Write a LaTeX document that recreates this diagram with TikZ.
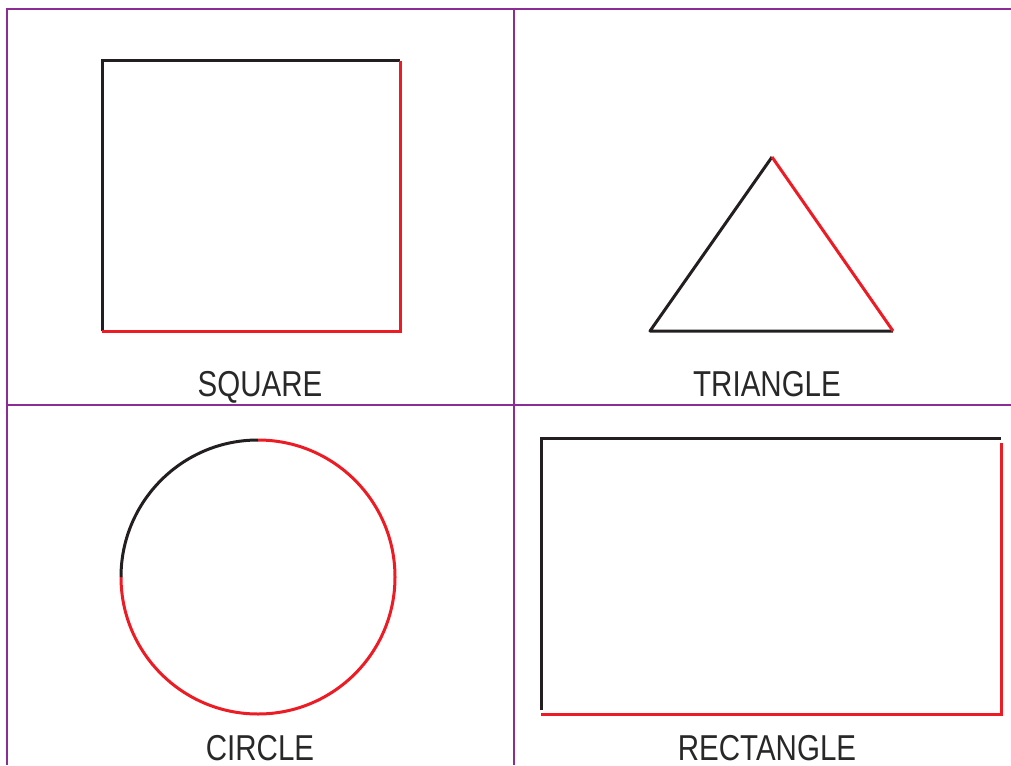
\documentclass[tikz,border=0pt]{standalone}
\usepackage{fontspec}
\newfontfamily\labelfont[FakeStretch=0.82]{Liberation Sans}
\usetikzlibrary{positioning}
\definecolor{gridpurple}{RGB}{140,45,150}
\definecolor{shapered}{RGB}{237,28,36}
\definecolor{shapeblack}{RGB}{35,31,32}
\definecolor{textgray}{RGB}{40,40,40}
\tikzset{
  grid line/.style={draw=gridpurple, line width=1.5pt},
  blk/.style={draw=shapeblack, line width=3pt},
  rd/.style={draw=shapered, line width=3pt},
  lbl/.style={inner sep=0pt, anchor=base, text=textgray, font=\labelfont\fontsize{36}{40}\selectfont}
}

\begin{document}
\begin{tikzpicture}[x=1pt, y=-1pt]
  \useasboundingbox (0,0) rectangle (1011,765);

  % Panel grid
  \draw[grid line] (7,765) -- (7,9) -- (1011,9);
  \draw[grid line] (514,9) -- (514,765);
  \draw[grid line] (7,405) -- (1011,405);

  % Square
  \coordinate (sqA) at (102,61);
  \coordinate (sqB) at (400,61);
  \coordinate (sqC) at (400,331);
  \coordinate (sqD) at (102,331);
  \draw[blk, line join=miter] (sqD) -- (sqA) -- (sqB);
  \draw[rd, line join=miter] (sqB) -- (sqC) -- (sqD);
  \node[lbl] (sq) at (260,396) {SQUARE};

  % Triangle
  \coordinate (trTop) at (772,157);
  \coordinate (trL) at (650,331);
  \coordinate (trR) at (893,331);
  \draw[blk, line join=round] (trTop) -- (trL) -- (trR);
  \draw[rd] (trTop) -- (trR);
  \node[lbl] (tr) at (767,396) {TRIANGLE};

  % Circle
  \coordinate (ciC) at (258,577);
  \draw[rd] (ciC) ++(0,-137) arc[start angle=-90, end angle=180, radius=137];
  \draw[blk] (ciC) ++(-137,0) arc[start angle=180, end angle=270, radius=137];
  \node[lbl] (ci) at (260,760) {CIRCLE};

  % Rectangle
  \coordinate (reA) at (541,438);
  \coordinate (reB) at (1001,438);
  \coordinate (reC) at (1001,714);
  \coordinate (reD) at (541,714);
  \draw[blk, line join=miter] (541,710) -- (reA) -- (reB);
  \draw[rd, line join=miter] (1001,443) -- (reC) -- (reD);
  \node[lbl] (re) at (767,760) {RECTANGLE};
\end{tikzpicture}
\end{document}
